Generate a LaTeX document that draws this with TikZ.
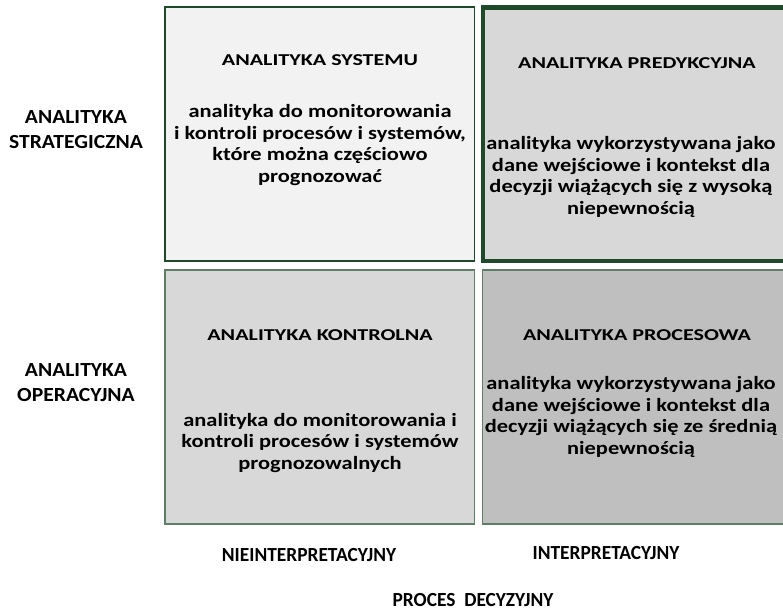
\documentclass[tikz,border=0pt]{standalone}
\usepackage{fontspec}
\setmainfont{Carlito}
\newfontfamily\titlefont{Carlito}[FakeStretch=1.33]
\newfontfamily\bodyfont{Carlito}[FakeStretch=1.2]
\newfontfamily\sidefont{Carlito}[FakeStretch=1.08]
\newfontfamily\footfont{Carlito}[FakeStretch=0.97]
\usetikzlibrary{positioning}

\definecolor{darkgreen}{HTML}{1E4A2A}
\definecolor{greyline}{HTML}{5E7F66}
\definecolor{palegrey}{HTML}{F2F2F2}
\definecolor{midgrey}{HTML}{D8D8D8}
\definecolor{deepgrey}{HTML}{BFBFBF}

\tikzset{
  cell/.style={rectangle, anchor=north west, inner sep=0pt, outer sep=0pt},
  heading/.style={inner sep=0pt, font=\titlefont\bfseries\fontsize{16.6}{20}\selectfont},
  body/.style={inner sep=0pt, align=center, font=\bodyfont\bfseries\fontsize{18.7}{21.5}\selectfont},
  sidelabel/.style={inner sep=0pt, align=center, font=\sidefont\bfseries\fontsize{20}{25}\selectfont},
  footlabel/.style={inner sep=0pt, font=\footfont\bfseries\fontsize{20}{25}\selectfont}
}

\begin{document}
\begin{tikzpicture}[x=1pt,y=-1pt]

    \useasboundingbox (0,0) rectangle (783,612);
    \clip (0,0) rectangle (783,612);

    % the four fields
    \node [cell, draw=darkgreen, line width=1.2pt, fill=palegrey,
           minimum width=309.5pt, minimum height=254pt] (sys) at (165,7) {};
    \node [cell, draw=darkgreen, line width=4.5pt, fill=midgrey,
           minimum width=320pt, minimum height=253.5pt] (pred) at (483,7.5) {};
    \node [cell, draw=greyline, line width=1.2pt, fill=midgrey,
           minimum width=309.5pt, minimum height=254pt] (kontr) at (165,270) {};
    \node [cell, draw=greyline, line width=1.2pt, fill=deepgrey,
           minimum width=320pt, minimum height=254pt] (proc) at (482.7,270) {};

    % texts in the fields
    \node [heading] (sysT) at (320,60) {ANALITYKA SYSTEMU};
    \node [body] (sysB) at (320,145) {analityka do monitorowania\\
        i kontroli procesów i systemów,\\ które można częściowo\\ prognozować};

    \node [heading] (predT) at (637,63) {ANALITYKA PREDYKCYJNA};
    \node [body] (predB) at (631,177) {analityka wykorzystywana jako\\
        dane wejściowe i kontekst dla\\ decyzji wiążących się z wysoką\\ niepewnością};

    \node [heading] (kontrT) at (320,335) {ANALITYKA KONTROLNA};
    \node [body] (kontrB) at (320,443) {analityka do monitorowania i\\
        kontroli procesów i systemów\\ prognozowalnych};

    \node [heading] (procT) at (637,335) {ANALITYKA PROCESOWA};
    \node [body] (procB) at (631,417) {analityka wykorzystywana jako\\
        dane wejściowe i kontekst dla\\ decyzji wiążących się ze średnią\\ niepewnością};

    % axis labels
    \node [sidelabel] (strat) at (76,130) {ANALITYKA\\ STRATEGICZNA};
    \node [sidelabel] (oper) at (76,383) {ANALITYKA\\ OPERACYJNA};
    \node [footlabel] (nieint) at (309,555) {NIEINTERPRETACYJNY};
    \node [footlabel] (int) at (606,553) {INTERPRETACYJNY};
    \node [footlabel] (proces) at (473,600) {PROCES\ \ DECYZYJNY};

\end{tikzpicture}
\end{document}
